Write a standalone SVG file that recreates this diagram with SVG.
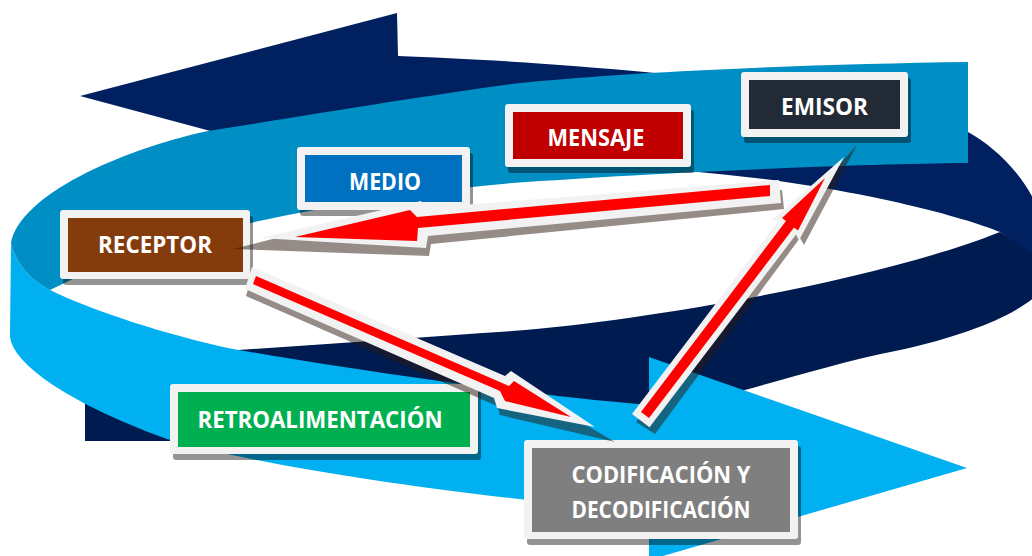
<svg xmlns="http://www.w3.org/2000/svg" width="1032" height="556" viewBox="0 0 1032 556">
<style>
.nb{fill:#002060}
.nf{fill:#001B50}
.mb{fill:#008FC4}
.cy{fill:#00B0F0}
.bsh{fill:#000;fill-opacity:.42}
.frame{fill:#F2F2F2}
.t{font-family:"Open Sans","Liberation Sans",sans-serif;font-weight:700;font-size:23.5px;fill:#fff;text-anchor:middle}
.ash{fill:#2b1a10;fill-opacity:.5}
.aol{fill:#F2F2F2}
.ar{fill:#FF0000}
</style>
<rect width="1032" height="556" fill="#fff"/>
<g id="spiral">
<path class="nb" d="M80,96 L397,13 L398,56 C460,58 560,64 645,72 C800,88 900,110 968,132 C1000,150 1045,190 1052,262 L1052,272 L1000,232 C950,212 820,180 672,170 L600,165 L420,150 L330,163 Z"/>
<path class="nf" d="M1000,232 L1054,268 C1050,300 990,330 900,350 C840,362 790,378 745,390 L700,405 C550,430 300,445 170,441 L85,441 L85,360 L220,351 C320,345 420,337 512,331 C650,320 880,280 1000,232 Z"/>
<path class="cy" d="M11,243 L10,335 C10,360 60,400 167,439 C260,466 450,495 649,512 L649,560 L967,468 L649,357 L649,405 C560,398 400,378 233,349 C170,336 90,310 50,290 C30,280 15,262 11,243 Z"/>
<path class="mb" d="M968,62 C820,64 640,71 520,83 C430,95 310,115 208,131 C120,150 20,195 11,243 C15,262 30,280 50,290 C90,270 170,235 250,223 C330,205 430,190 512,183 C650,173 850,164 968,163 Z"/>
</g>
<g id="emisor">
<rect class="bsh" x="744" y="78" width="167" height="65" rx="3"/>
<rect class="frame" x="741" y="72" width="167" height="65" rx="3"/>
<rect x="749" y="80" width="151" height="49" fill="#222A35"/>
<text class="t" x="824.5" y="115" textLength="87" lengthAdjust="spacingAndGlyphs">EMISOR</text>
</g>
<g id="mensaje">
<rect class="bsh" x="508" y="110" width="186" height="63" rx="3"/>
<rect class="frame" x="505" y="104" width="186" height="63" rx="3"/>
<rect x="513" y="112" width="170" height="47" fill="#C00000"/>
<text class="t" x="596" y="146" textLength="97" lengthAdjust="spacingAndGlyphs">MENSAJE</text>
</g>
<g id="medio">
<rect class="bsh" x="300" y="153" width="173" height="63" rx="3"/>
<rect class="frame" x="297" y="147" width="173" height="63" rx="3"/>
<rect x="305" y="155" width="157" height="47" fill="#0070C0"/>
<text class="t" x="385" y="190" textLength="72" lengthAdjust="spacingAndGlyphs">MEDIO</text>
</g>
<g id="receptor">
<rect class="bsh" x="63" y="216" width="190" height="69" rx="3"/>
<rect class="frame" x="60" y="210" width="190" height="69" rx="3"/>
<rect x="68" y="218" width="175" height="54" fill="#843C0C"/>
<text class="t" x="155" y="253" textLength="114" lengthAdjust="spacingAndGlyphs">RECEPTOR</text>
</g>
<g id="retroalimentacion">
<rect class="bsh" x="173" y="390" width="308" height="70" rx="3"/>
<rect class="frame" x="170" y="384" width="308" height="70" rx="3"/>
<rect x="178" y="392" width="292" height="55" fill="#00B050"/>
<text class="t" x="320" y="428" textLength="245" lengthAdjust="spacingAndGlyphs">RETROALIMENTACIÓN</text>
</g>
<g id="codificacion">
<rect class="bsh" x="527" y="446" width="274" height="99" rx="3"/>
<rect class="frame" x="524" y="440" width="274" height="99" rx="3"/>
<rect x="532" y="448" width="258" height="84" fill="#7F7F7F"/>
<text class="t" x="661" y="483" textLength="179" lengthAdjust="spacingAndGlyphs">CODIFICACIÓN Y</text>
<text class="t" x="661" y="518" textLength="179" lengthAdjust="spacingAndGlyphs">DECODIFICACIÓN</text>
</g>
<g id="connectors">
<g id="emisor-receptor">
<polygon class="ash" points="782,190 784,209 431,244 429,256 233,249 300,232 420,210"/>
<polygon class="aol" points="779,180 425,208 421,201 260,238 426,248 428,236 781,203"/>
<polygon class="ar" points="770,185 417,217 410,210 295,237 417,241 418,228 770,196"/>
</g>
<g id="receptor-codificacion">
<polygon class="ash" points="252,275 509,380 615,442 500,415 497,406 246,296"/>
<polygon class="aol" points="252,267 505,376 511,371 595,427 497,408 494,398 245,289"/>
<polygon class="ar" points="256,276 509,386 514,381 571,417 505,401 500,391 253,284"/>
</g>
<g id="codificacion-emisor">
<polygon class="ash" points="636,422 784,226 857,145 804,245 800,238 655,434"/>
<polygon class="aol" points="632,414 778.4,221.2 771.9,220 844,157 798.9,240.6 796,234.6 649.5,427.2"/>
<polygon class="ar" points="641,412 786,221 782,218 825,178 798,230.6 794,227.6 649,418"/>
</g>
</g>
</svg>
